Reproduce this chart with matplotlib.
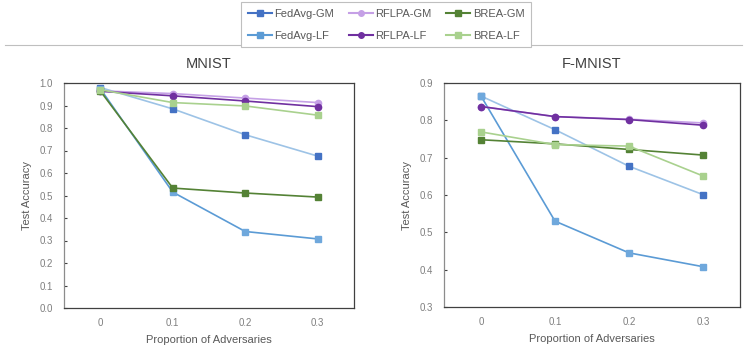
import matplotlib
matplotlib.use("Agg")
import matplotlib.pyplot as plt
from matplotlib.lines import Line2D

plt.rcParams["font.family"] = ["Liberation Sans", "DejaVu Sans"]

# data
x_labels = ["0", "0.1", "0.2", "0.3"]

mnist_fedavg_gm = [0.980, 0.885, 0.770, 0.675]
mnist_fedavg_lf = [0.975, 0.515, 0.340, 0.307]
mnist_rflpa_gm = [0.965, 0.953, 0.933, 0.913]
mnist_rflpa_lf = [0.963, 0.943, 0.920, 0.895]
mnist_brea_gm = [0.965, 0.533, 0.511, 0.493]
mnist_brea_lf = [0.970, 0.913, 0.898, 0.857]

fmnist_fedavg_gm = [0.865, 0.775, 0.677, 0.601]
fmnist_fedavg_lf = [0.865, 0.530, 0.445, 0.408]
fmnist_rflpa_gm = [0.837, 0.810, 0.803, 0.793]
fmnist_rflpa_lf = [0.837, 0.810, 0.802, 0.787]
fmnist_brea_gm = [0.748, 0.737, 0.722, 0.707]
fmnist_brea_lf = [0.769, 0.735, 0.731, 0.651]

# (line colour, marker colour, marker) -- as drawn in the plot area
styles = {
    "FedAvg-GM": ("#9dc3e6", "#4472c4", "s"),
    "FedAvg-LF": ("#5b9bd5", "#6fa8dc", "s"),
    "RFLPA-GM": ("#c5a0e6", "#c5a0e6", "o"),
    "RFLPA-LF": ("#7030a0", "#7030a0", "o"),
    "BREA-GM": ("#548235", "#548235", "s"),
    "BREA-LF": ("#a9d18e", "#a9d18e", "s"),
}
# legend colours
legend_cols = {
    "FedAvg-GM": "#4472c4",
    "FedAvg-LF": "#5b9bd5",
    "RFLPA-GM": "#c5a0e6",
    "RFLPA-LF": "#7030a0",
    "BREA-GM": "#548235",
    "BREA-LF": "#a9d18e",
}

panels = [
    ("MNIST", (0.0, 1.0), [i / 10 for i in range(11)], "{:.1f}",
     {"FedAvg-GM": mnist_fedavg_gm, "FedAvg-LF": mnist_fedavg_lf,
      "RFLPA-GM": mnist_rflpa_gm, "RFLPA-LF": mnist_rflpa_lf,
      "BREA-GM": mnist_brea_gm, "BREA-LF": mnist_brea_lf}),
    ("F-MNIST", (0.3, 0.9), [0.3, 0.4, 0.5, 0.6, 0.7, 0.8, 0.9], "{:.1f}",
     {"FedAvg-GM": fmnist_fedavg_gm, "FedAvg-LF": fmnist_fedavg_lf,
      "RFLPA-GM": fmnist_rflpa_gm, "RFLPA-LF": fmnist_rflpa_lf,
      "BREA-GM": fmnist_brea_gm, "BREA-LF": fmnist_brea_lf}),
]

W, H = 749, 346
fig = plt.figure(figsize=(W / 100, H / 100), dpi=100)

# separator line behind the legend
fig.add_artist(Line2D([5 / W, 742 / W], [1 - 45 / H, 1 - 45 / H],
                      color="#bfbfbf", lw=0.8))

rects = [(64, 83, 354, 308), (444, 83, 740, 307)]
gray = "#595959"
tick_gray = "#7f7f7f"
for (title, ylim, yticks, fmt, series), (l, t, r, b) in zip(panels, rects):
    ax = fig.add_axes([l / W, 1 - b / H, (r - l) / W, (b - t) / H])
    xs = list(range(len(x_labels)))
    for name, vals in series.items():
        lc, mc, mk = styles[name]
        ax.plot(xs, vals, color=lc, lw=1.2, marker=mk, ms=4.5,
                mfc=mc, mec=mc, zorder=3)
    ax.set_xlim(-0.5, 3.5)
    ax.set_ylim(*ylim)
    ax.set_xticks(xs)
    ax.set_xticklabels(x_labels)
    ax.set_yticks(yticks)
    ax.set_yticklabels([fmt.format(v) for v in yticks])
    ax.tick_params(axis="x", length=0, pad=7, labelsize=7,
                   labelcolor=tick_gray)
    ax.tick_params(axis="y", direction="in", length=2.5, width=0.8,
                   color="#404040", pad=8, labelsize=7, labelcolor=tick_gray)
    for s in ax.spines.values():
        s.set_color("#404040")
        s.set_linewidth(0.9)
    ax.spines["left"].set_color("#8c8c8c")
    ax.set_title(title, fontsize=10.5, color="#404040", pad=11)
    ax.set_xlabel("Proportion of Adversaries", fontsize=8, color=gray,
                  labelpad=5)
    ax.set_ylabel("Test Accuracy", fontsize=8, color=gray, labelpad=5)

order = ["FedAvg-GM", "FedAvg-LF", "RFLPA-GM", "RFLPA-LF", "BREA-GM", "BREA-LF"]
handles = [Line2D([], [], color=legend_cols[n], lw=1.5,
                  marker=styles[n][2], ms=4) for n in order]
leg = fig.legend(handles, order, ncol=3, loc="lower center",
                 bbox_to_anchor=(386 / W, 1 - 53 / H), fontsize=8,
                 frameon=True, fancybox=False, edgecolor="#bfbfbf",
                 framealpha=1, handlelength=2.2, handletextpad=0.2,
                 columnspacing=1.3, borderpad=0.6, labelspacing=1.1)
for txt in leg.get_texts():
    txt.set_color(gray)
leg.get_frame().set_linewidth(0.8)

fig.savefig("out.png", dpi=100)
